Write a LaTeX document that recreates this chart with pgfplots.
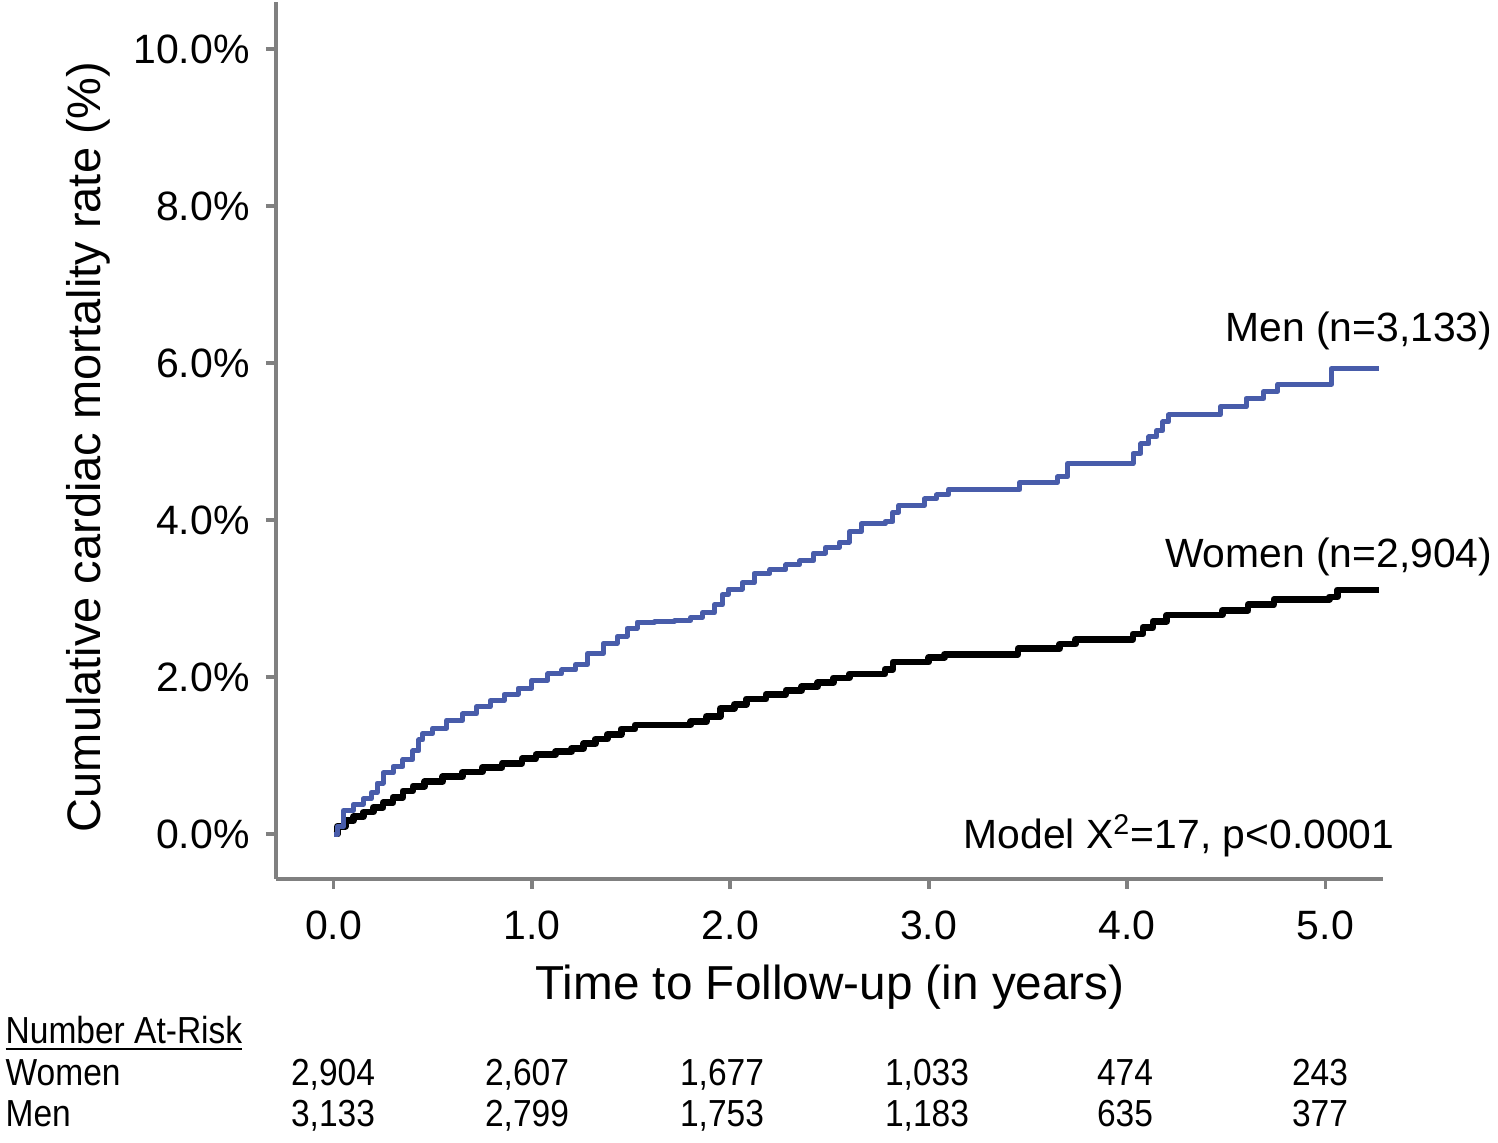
\documentclass[border=0pt]{standalone}
\usepackage{fontspec}
\setmainfont{Liberation Sans}
\newfontfamily\narrowfont{Liberation Sans}[FakeStretch=0.89]
\usepackage{pgfplots}
\usepackage{pgfplotstable}
\pgfplotsset{compat=1.18}
\definecolor{menblue}{RGB}{72,92,170}
\definecolor{axisgray}{RGB}{128,128,128}

% cumulative cardiac mortality (%)
\pgfplotstableread{
t p
0 0
0.02 0.10
0.05 0.30
0.10 0.38
0.15 0.45
0.19 0.53
0.22 0.65
0.25 0.78
0.30 0.86
0.35 0.95
0.40 1.06
0.43 1.20
0.45 1.28
0.50 1.35
0.57 1.45
0.65 1.53
0.72 1.62
0.79 1.70
0.86 1.78
0.93 1.86
1.00 1.96
1.08 2.04
1.15 2.09
1.22 2.16
1.28 2.30
1.36 2.43
1.43 2.52
1.48 2.62
1.53 2.70
1.62 2.71
1.72 2.72
1.80 2.76
1.86 2.82
1.92 2.92
1.96 3.05
1.99 3.12
2.06 3.20
2.12 3.32
2.20 3.37
2.28 3.43
2.35 3.48
2.42 3.58
2.48 3.65
2.55 3.72
2.60 3.85
2.66 3.95
2.78 3.98
2.82 4.10
2.85 4.19
2.98 4.27
3.04 4.32
3.10 4.39
3.41 4.39
3.46 4.48
3.65 4.55
3.70 4.72
3.99 4.72
4.03 4.85
4.07 4.97
4.11 5.06
4.15 5.14
4.18 5.25
4.21 5.34
4.43 5.34
4.47 5.44
4.60 5.55
4.69 5.64
4.76 5.73
5.01 5.73
5.03 5.93
5.27 5.93
}\men

\pgfplotstableread{
t p
0 0
0.02 0.10
0.06 0.17
0.10 0.22
0.15 0.28
0.20 0.34
0.25 0.40
0.30 0.47
0.35 0.55
0.40 0.61
0.46 0.67
0.55 0.73
0.65 0.79
0.75 0.85
0.85 0.90
0.95 0.96
1.02 1.01
1.12 1.05
1.20 1.09
1.26 1.15
1.32 1.21
1.38 1.27
1.45 1.34
1.52 1.39
1.80 1.43
1.88 1.50
1.95 1.60
2.02 1.65
2.08 1.72
2.18 1.78
2.28 1.83
2.36 1.88
2.44 1.93
2.52 1.99
2.60 2.04
2.78 2.10
2.82 2.19
3.00 2.25
3.08 2.29
3.45 2.36
3.66 2.42
3.74 2.48
3.99 2.48
4.03 2.55
4.08 2.63
4.13 2.71
4.20 2.79
4.43 2.79
4.48 2.85
4.61 2.92
4.74 2.99
5.02 3.02
5.06 3.11
5.27 3.11
}\women

\begin{document}
\begin{tikzpicture}
\path (-82.8pt,-79.2pt) rectangle (366.6pt,263.1pt);
\begin{axis}[
  scale only axis,
  width=332.1pt, height=263.1pt,
  xmin=-0.29, xmax=5.29,
  ymin=-0.57, ymax=10.6,
  axis x line=bottom, axis y line=left,
  axis line style={-, axisgray, line width=1.1pt},
  tick style={axisgray, line width=1.1pt},
  tick align=outside,
  major tick length=3pt,
  xtick={0,1,2,3,4,5},
  xticklabels={0.0,1.0,2.0,3.0,4.0,5.0},
  ytick={0,2,4,6,8,10},
  yticklabels={0.0\%,2.0\%,4.0\%,6.0\%,8.0\%,10.0\%},
  ticklabel style={font=\fontsize{12.3}{14}\selectfont},
  xticklabel style={yshift=-3pt},
  yticklabel style={xshift=-1.4pt},
  xlabel={Time to Follow-up (in years)},
  ylabel={Cumulative cardiac mortality rate (\%)},
  every axis x label/.style={at={(axis description cs:0.5005,-0.123)}, anchor=center, font=\fontsize{14.3}{16}\selectfont},
  every axis y label/.style={at={(axis description cs:-0.1698,0.4926)}, rotate=90, anchor=center, font=\fontsize{14.1}{16}\selectfont},
  clip=false,
]
\addplot[const plot, black, line width=2pt, line join=round] table[x=t,y=p]{\women};
\addplot[const plot, menblue, line width=1.5pt, line join=round] table[x=t,y=p]{\men};
\end{axis}

\begin{scope}[every node/.style={inner sep=0pt, font=\fontsize{12.25}{14}\selectfont}]
\node[anchor=base east] at (365.1pt,161.1pt) {Men (n=3,133)};
\node[anchor=base east] at (365.1pt,93.3pt) {Women (n=2,904)};
\node[anchor=base east] at (335.7pt,9pt) {Model X\textsuperscript{2}=17, p<0.0001};
\end{scope}

\begin{scope}[every node/.style={inner sep=0pt, font=\narrowfont\fontsize{11.3}{13}\selectfont}]
\node[anchor=base west] at (-81.3pt,-49.5pt) {\underline{Number At-Risk}};
\node[anchor=base west] at (-81.3pt,-62.1pt) {Women};
\node[anchor=base west] at (-81.3pt,-74.4pt) {Men};
\foreach \x/\w/\m in {17.1/{2,904}/{3,133}, 75.3/{2,607}/{2,799}, 133.8/{1,677}/{1,753}, 195.3/{1,033}/{1,183}, 254.7/474/635, 313.2/243/377}{
  \node[anchor=base] at (\x pt,-62.1pt) {\w};
  \node[anchor=base] at (\x pt,-74.4pt) {\m};
}
\end{scope}
\end{tikzpicture}
\end{document}
